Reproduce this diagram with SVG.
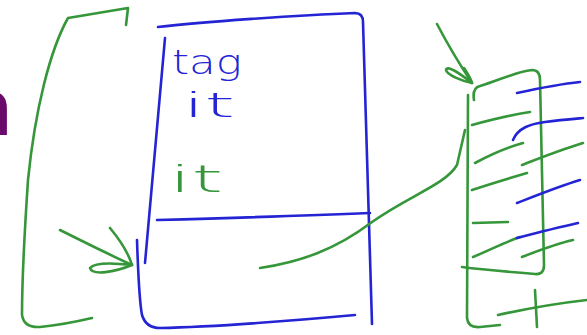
<svg xmlns="http://www.w3.org/2000/svg" width="587" height="335" viewBox="0 0 587 335">
<style>
.g{fill:none;stroke:#35963a;stroke-width:2.6;stroke-linecap:round;stroke-linejoin:round}
.b{fill:none;stroke:#2424d4;stroke-width:2.6;stroke-linecap:round;stroke-linejoin:round}
.bt{font-family:"DejaVu Sans","Liberation Sans",sans-serif;font-weight:300;fill:#2424d4}
.gt{font-family:"DejaVu Sans","Liberation Sans",sans-serif;font-weight:300;fill:#35963a}
</style>
<rect width="587" height="335" fill="#ffffff"/>
<g id="letter-n">
<text x="-37" y="135" font-family="Liberation Sans, sans-serif" font-weight="bold" font-size="80" fill="#6a0a6a">n</text>
</g>
<g id="bracket-left">
<path class="g" d="M126,25 L128,8 C105,12 85,15 68,18 C50,50 35,110 28,180 C24,240 22,290 22,315 Q24,328 40,327 C60,325 75,322 92,318"/>
</g>
<g id="blue-box">
<path class="b" d="M158,27 C200,22 300,15 355,13 Q363,13 363,22 L372,324"/>
<path class="b" d="M165,38 L145,263"/>
<path class="b" d="M137,240 C138,270 139,300 142,315 Q146,328 160,328 C220,327 300,320 355,315"/>
<path class="b" d="M157,220 C230,218 300,216 370,213"/>
<text class="bt" x="172" y="74" font-size="34" textLength="70" lengthAdjust="spacingAndGlyphs">tag</text>
<text class="bt" x="183" y="117" font-size="34" textLength="52" lengthAdjust="spacingAndGlyphs">it</text>
<text class="gt" x="169" y="192" font-size="38" textLength="54" lengthAdjust="spacingAndGlyphs">it</text>
</g>
<g id="green-list">
<path class="g" d="M474,100 Q472,88 480,86 C500,80 515,72 532,70 Q540,70 540,80 L544,265 Q544,275 535,274 C510,272 485,270 462,267"/>
<path class="g" d="M468,95 L467,318 Q468,328 480,327 L500,325"/>
<path class="g" d="M472,125 C490,120 510,115 530,112"/>
<path class="g" d="M475,163 C490,155 505,148 523,143"/>
<path class="g" d="M472,190 C490,184 510,178 527,173"/>
<path class="g" d="M473,223 L508,222"/>
<path class="g" d="M473,257 C490,250 505,242 520,237"/>
<path class="g" d="M522,165 C540,158 560,150 583,143"/>
<path class="g" d="M522,257 C540,250 555,244 573,240"/>
<path class="g" d="M498,315 C530,308 560,303 587,300"/>
<path class="g" d="M535,290 L537,327"/>
<path class="b" d="M517,93 C540,88 560,84 580,82"/>
<path class="b" d="M513,140 C518,128 530,124 545,122 C560,120 572,119 583,118"/>
<path class="b" d="M517,203 C540,194 560,186 580,180"/>
<path class="b" d="M517,238 C540,232 560,227 578,223"/>
</g>
<g id="connectors">
<path class="g" d="M60,230 C90,245 110,255 132,265"/>
<path class="g" d="M110,228 C120,240 128,252 132,265 C115,263 95,262 90,268 C92,276 115,272 132,265"/>
<path class="g" d="M260,268 C300,262 335,250 372,222 C410,195 445,185 457,165 L465,130"/>
<path class="g" d="M437,24 C448,45 460,65 472,83"/>
<path class="g" d="M464,68 C468,74 471,79 472,83 C462,81 447,75 446,70 C447,65 458,72 472,83"/>
</g>
</svg>
